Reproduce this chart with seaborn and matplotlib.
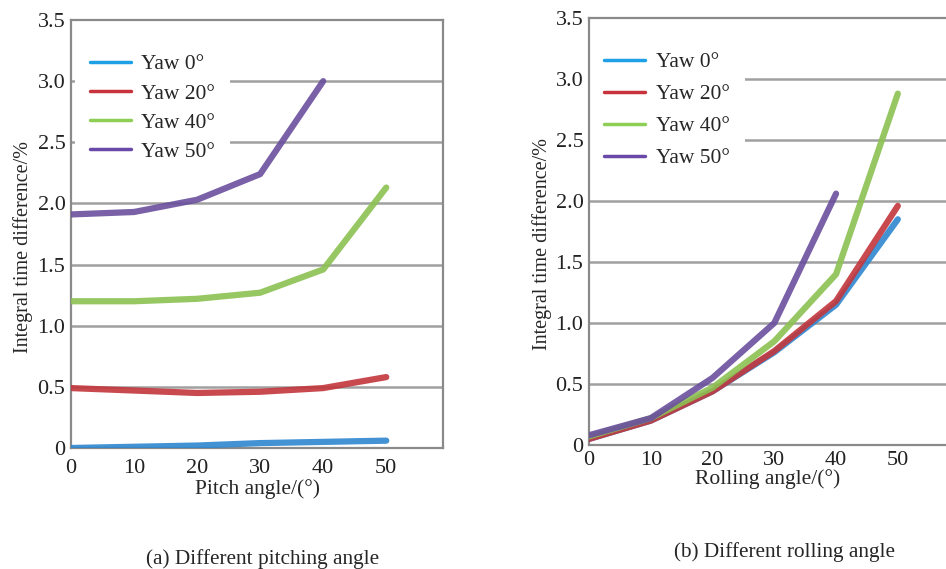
import numpy as np
import pandas as pd
import matplotlib
matplotlib.use("Agg")
import matplotlib.pyplot as plt
import seaborn as sns

angles = [0, 10, 20, 30, 40, 50]
series_names = ["Yaw 0°", "Yaw 20°", "Yaw 40°", "Yaw 50°"]

pitch_yaw0 = [0.0, 0.01, 0.02, 0.04, 0.05, 0.06]
pitch_yaw20 = [0.49, 0.47, 0.45, 0.46, 0.49, 0.58]
pitch_yaw40 = [1.20, 1.20, 1.22, 1.27, 1.46, 2.13]
pitch_yaw50 = [1.91, 1.93, 2.03, 2.24, 3.00]

roll_yaw0 = [0.05, 0.20, 0.44, 0.76, 1.15, 1.85]
roll_yaw20 = [0.05, 0.20, 0.44, 0.77, 1.18, 1.96]
roll_yaw40 = [0.07, 0.22, 0.47, 0.85, 1.40, 2.88]
roll_yaw50 = [0.08, 0.22, 0.55, 1.00, 2.06]

y_ticks = [0, 0.5, 1.0, 1.5, 2.0, 2.5, 3.0, 3.5]
y_tick_labels = ["0", "0.5", "1.0", "1.5", "2.0", "2.5", "3.0", "3.5"]
x_ticks = [0, 10, 20, 30, 40, 50]

colors = ["#2e86cf", "#c2363c", "#8cc152", "#6a4f9e"]
legend_colors = ["#1ea0e6", "#c8323a", "#8fce55", "#6a48a8"]

def build(series):
    rows = []
    for name, vals in zip(series_names, series):
        for a, v in zip(angles, vals):
            rows.append({"angle": a, "value": v, "series": name})
    return pd.DataFrame(rows)

df_pitch = build([pitch_yaw0, pitch_yaw20, pitch_yaw40, pitch_yaw50])
df_roll = build([roll_yaw0, roll_yaw20, roll_yaw40, roll_yaw50])

sns.set_theme(style="white")
plt.rcParams["font.family"] = ["Liberation Serif", "DejaVu Serif"]

W, H = 946, 569
fig = plt.figure(figsize=(W / 100, H / 100), dpi=100)

ax1 = fig.add_axes([71 / W, (H - 448) / H, (443 - 71) / W, (448 - 20) / H])
ax2 = fig.add_axes([589 / W, (H - 445) / H, (946 - 589) / W, (445 - 18) / H])

grid_c = "#a0a0a0"

def style(ax, df, xmax, xlabel, xtick_pad, xlabel_pad, ylab_x, leg_x, leg_sp):
    for g in y_ticks[1:-1]:
        ax.axhline(g, color=grid_c, lw=1.8, zorder=0)
    sns.lineplot(data=df, x="angle", y="value", hue="series", palette=colors,
                 hue_order=series_names, lw=4.5, ax=ax, legend=False, alpha=0.9,
                 solid_capstyle="round", zorder=3)
    ax.set_xlim(0, xmax)
    ax.set_ylim(0, 3.5)
    ax.set_yticks(y_ticks)
    ax.set_yticklabels(y_tick_labels)
    ax.set_xticks(x_ticks)
    ax.tick_params(axis="y", length=0, labelsize=16, colors="#222222", pad=4)
    ax.tick_params(axis="x", length=0, labelsize=16, colors="#222222", pad=xtick_pad)
    ax.set_ylabel("Integral time difference/%", fontsize=14.5)
    ax.yaxis.set_label_coords(ylab_x, 0.47)
    ax.set_xlabel(xlabel, fontsize=15.5, labelpad=xlabel_pad)
    for s in ax.spines.values():
        s.set_color("#8a8a8a")
        s.set_linewidth(1.6)
    handles = [plt.Line2D([], [], color=c, lw=2.5) for c in legend_colors]
    leg = ax.legend(handles, series_names, loc="upper left",
                    bbox_to_anchor=(leg_x, 0.955), fontsize=15.5, frameon=True,
                    facecolor="white", edgecolor="white", framealpha=1,
                    handlelength=1.9, labelspacing=leg_sp, borderpad=0.7,
                    handletextpad=0.5, borderaxespad=0)
    leg.get_frame().set_linewidth(0)
    leg.set_zorder(1.5)

style(ax1, df_pitch, 59, "Pitch angle/(°)", 8, 1, -0.102, 0.01, 0.42)
style(ax2, df_roll, 57.8, "Rolling angle/(°)", 4, 0, -0.104, 0.0, 0.55)
ax2.spines["right"].set_visible(False)

fig.text(263 / W, 1 - 559 / H, "(a) Different pitching angle", ha="center", va="center", fontsize=15.3)
fig.text(785 / W, 1 - 552 / H, "(b) Different rolling angle", ha="center", va="center", fontsize=15.3)

fig.savefig("out.png", dpi=100)
